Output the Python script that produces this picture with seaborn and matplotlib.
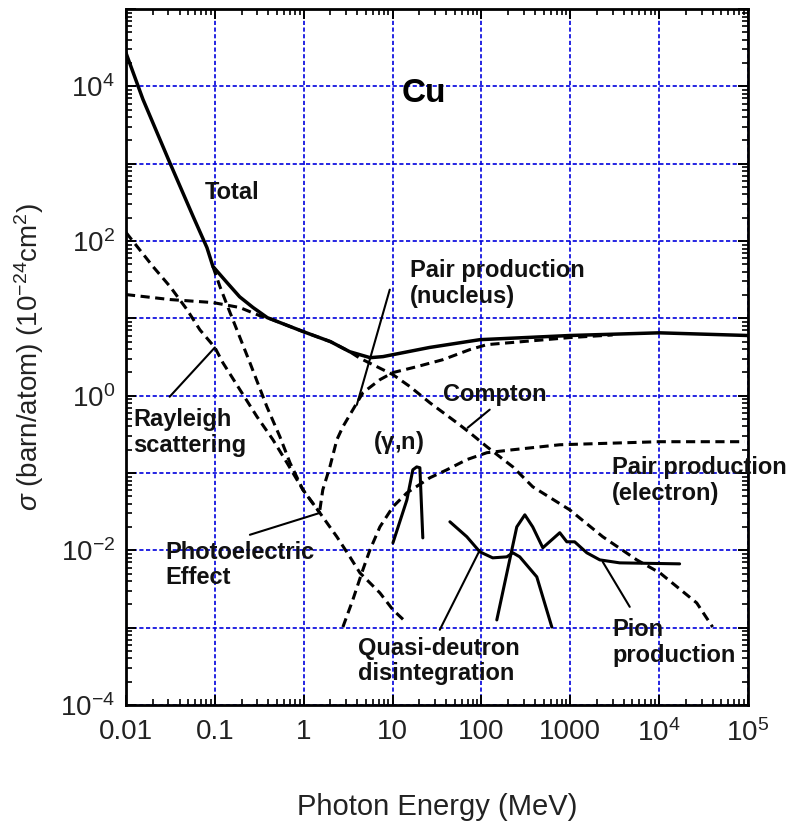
import matplotlib
matplotlib.use('Agg')
import matplotlib.pyplot as plt
import matplotlib.ticker as mticker
import pandas as pd
import seaborn as sns

# Cu photon cross sections
# energy in MeV, sigma in barn/atom
total_E = [0.01, 0.0155, 0.031, 0.057, 0.0815, 0.095, 0.137, 0.19, 0.269, 0.39, 1.0, 2.0, 3.3, 5.6, 7.8, 26, 96,
           990, 1e4, 1e5]
total_sig = [2.7e4, 6800, 1040, 207, 82, 47, 29, 19, 13.8, 10.2, 6.7, 5.0, 3.7, 3.1, 3.2, 4.2, 5.3,
             6.0, 6.5, 6.0]

rayleigh_E = [0.01, 0.0201, 0.0313, 0.0485, 0.0679, 0.1, 0.123, 0.191, 0.298, 0.451, 0.647, 0.98, 1.52]
rayleigh_sig = [129, 46.8, 25.8, 13, 7.1, 4.2, 2.67, 1.2, 0.535, 0.269, 0.136, 0.0607, 0.0305]

photo_E = [0.095, 0.114, 0.148, 0.177, 0.248, 0.385, 0.54, 0.70, 0.98, 1.52, 2.36, 3.31, 4.29, 7.2, 10.1, 14.5]
photo_sig = [46.8, 25.8, 11.9, 7.1, 2.67, 0.72, 0.294, 0.136, 0.0607, 0.0305, 0.015, 0.00824, 0.00512, 0.00282, 0.0017, 0.00115]

compton_E = [0.01, 0.0313, 0.0953, 0.191, 0.321, 0.39, 1.0, 2.0, 3.3, 4.29, 10.1, 15.7, 26.3, 52.9, 74, 115,
             226, 378, 986, 2320, 5600, 1.02e4, 2.65e4, 4.0e4]
compton_sig = [20.3, 17.5, 16.0, 13.8, 10.8, 10.2, 6.7, 5.0, 3.7, 3.05, 1.87, 1.31, 0.81, 0.447, 0.332, 0.219,
               0.12, 0.0664, 0.0334, 0.015, 0.00753, 0.00512, 0.00209, 0.00102]

pair_nuc_E = [1.52, 1.64, 1.97, 2.36, 2.76, 4.63, 7.2, 10.1, 18.7, 36.8, 74, 115, 986, 3000]
pair_nuc_sig = [0.0334, 0.0607, 0.12, 0.269, 0.397, 1.09, 1.61, 1.99, 2.37, 2.92, 3.94, 4.57, 5.64, 6.1]

pair_el_E = [2.76, 3.57, 4.63, 5.56, 7.2, 10.1, 14.5, 26.3, 40.8, 68.5, 115, 226, 762, 1.0e4, 9.2e4]
pair_el_sig = [0.00102, 0.00229, 0.0056, 0.0101, 0.0201, 0.0366, 0.0554, 0.0868, 0.110, 0.149, 0.183, 0.2,
               0.232, 0.254, 0.254]

gn_E = [10.1, 14.5, 16.9, 18.7, 20.3, 21.9]
gn_sig = [0.0125, 0.045, 0.110, 0.12, 0.117, 0.0145]

qd_E = [44.2, 68.5, 96, 134, 193, 226, 270, 420, 620]
qd_sig = [0.0234, 0.015, 0.00957, 0.008, 0.00824, 0.0093, 0.00824, 0.00454, 0.00102]

pion_E = [149, 250, 308, 378, 491, 762, 914, 1120, 1535, 2150, 3600, 1.7e4]
pion_sig = [0.00126, 0.0201, 0.0288, 0.0201, 0.0108, 0.0169, 0.0129, 0.0129, 0.0093, 0.00753, 0.00689, 0.00669]

x_ticks = [0.01, 0.1, 1, 10, 100, 1000, 1e4, 1e5]
x_tick_labels = ['0.01', '0.1', '1', '10', '100', '1000', r'$10^4$', r'$10^5$']
y_ticks = [1e-4, 1e-3, 1e-2, 1e-1, 1, 10, 1e2, 1e3, 1e4, 1e5]
y_tick_labels = [r'$10^{-4}$', '', r'$10^{-2}$', '', r'$10^0$', '', r'$10^2$', '', r'$10^4$', '']

# label text, anchor (E, sigma)
labels = [
    ('Total', 0.0774, 425),
    ('Pair production\n(nucleus)', 15.7, 28.2),
    ('Compton', 36.8, 1.03),
    ('Rayleigh\nscattering', 0.012, 0.332),
    (r'($\mathbf{\gamma}$,n)', 6.0, 0.247),
    ('Pair production\n(electron)', 2930, 0.0794),
    ('Photoelectric\nEffect', 0.0275, 0.00649),
    ('Quasi-deutron\ndisintegration', 4.07, 3.7e-4),
    ('Pion\nproduction', 3000, 6.5e-4),
]

# pointer lines: (E0, sig0, E1, sig1)
pointers = [
    (0.031, 0.97, 0.1, 4.2),
    (0.248, 0.0159, 1.52, 0.0305),
    (9.3, 23.5, 3.96, 0.76),
    (124, 0.66, 70, 0.385),
    (34, 9.4e-4, 96, 0.0101),
    (4670, 0.00186, 2320, 0.0071),
]

sns.set_style('ticks')
plt.rcParams['font.family'] = ['Liberation Sans', 'DejaVu Sans']
plt.rcParams['mathtext.fontset'] = 'custom'
plt.rcParams['mathtext.rm'] = 'Liberation Sans'
plt.rcParams['mathtext.it'] = 'Liberation Sans:italic'
plt.rcParams['mathtext.bf'] = 'Liberation Sans:bold'
plt.rcParams['text.color'] = 'black'

fig = plt.figure(figsize=(7.91, 8.27), dpi=100)
ax = fig.add_axes([0.1593, 0.1475, 0.7863, 0.8416])
ax.set(xscale='log', yscale='log')

dash = (0, (3.0, 1.8))


def draw(E, sig, ls='-', lw=2.4):
    df = pd.DataFrame({'E': E, 'sigma': sig})
    sns.lineplot(data=df, x='E', y='sigma', ax=ax, color='black', lw=lw,
                 estimator=None, sort=False)
    ax.lines[-1].set_linestyle(ls)
    ax.lines[-1].set_zorder(3)


draw(rayleigh_E, rayleigh_sig, dash, 2.2)
draw(photo_E, photo_sig, dash, 2.2)
draw(compton_E, compton_sig, dash, 2.2)
draw(pair_nuc_E, pair_nuc_sig, dash, 2.2)
draw(pair_el_E, pair_el_sig, dash, 2.2)
draw(total_E, total_sig, '-', 2.5)
draw(gn_E, gn_sig, '-', 2.2)
draw(qd_E, qd_sig, '-', 2.2)
draw(pion_E, pion_sig, '-', 2.2)

for e0, s0, e1, s1 in pointers:
    ax.annotate('', xy=(e1, s1), xytext=(e0, s0),
                arrowprops=dict(arrowstyle='-', lw=1.5, color='black', shrinkA=0, shrinkB=0))

for txt, e, s in labels:
    ax.text(e, s, txt, fontsize=17, fontweight='bold', ha='left', va='center',
            linespacing=1.15, zorder=4, color='#111111')
ax.text(12.7, 8000, 'Cu', fontsize=24, fontweight='bold', ha='left', va='center', color='black')

ax.set_xlim(0.01, 1e5)
ax.set_ylim(1e-4, 1e5)
ax.xaxis.set_major_locator(mticker.FixedLocator(x_ticks))
ax.xaxis.set_major_formatter(mticker.FixedFormatter(x_tick_labels))
ax.yaxis.set_major_locator(mticker.FixedLocator(y_ticks))
ax.yaxis.set_major_formatter(mticker.FixedFormatter(y_tick_labels))
ax.xaxis.set_minor_locator(mticker.LogLocator(base=10, subs=range(2, 10), numticks=20))
ax.yaxis.set_minor_locator(mticker.LogLocator(base=10, subs=range(2, 10), numticks=20))
ax.xaxis.set_minor_formatter(mticker.NullFormatter())
ax.yaxis.set_minor_formatter(mticker.NullFormatter())

ax.grid(True, which='major', color='#0000dd', linestyle=(0, (2.5, 1.5)), lw=1.2, zorder=1)
ax.set_axisbelow(True)

ax.tick_params(which='both', direction='in', top=True, right=True, colors='black',
               labelcolor='#222222')
ax.tick_params(which='major', length=7, width=1.4, labelsize=20)
ax.tick_params(axis='x', which='major', pad=10)
ax.tick_params(axis='y', which='major', pad=8)
ax.tick_params(which='minor', length=4, width=1.2)
for sp in ax.spines.values():
    sp.set_linewidth(2.0)
    sp.set_color('black')

ax.set_xlabel('Photon Energy (MeV)', fontsize=21, labelpad=33, color='#222222')
ax.set_ylabel(r'$\sigma$ (barn/atom) (10$^{-24}$cm$^2$)', fontsize=20, labelpad=10, color='#222222')

fig.savefig('out.png', dpi=100)
